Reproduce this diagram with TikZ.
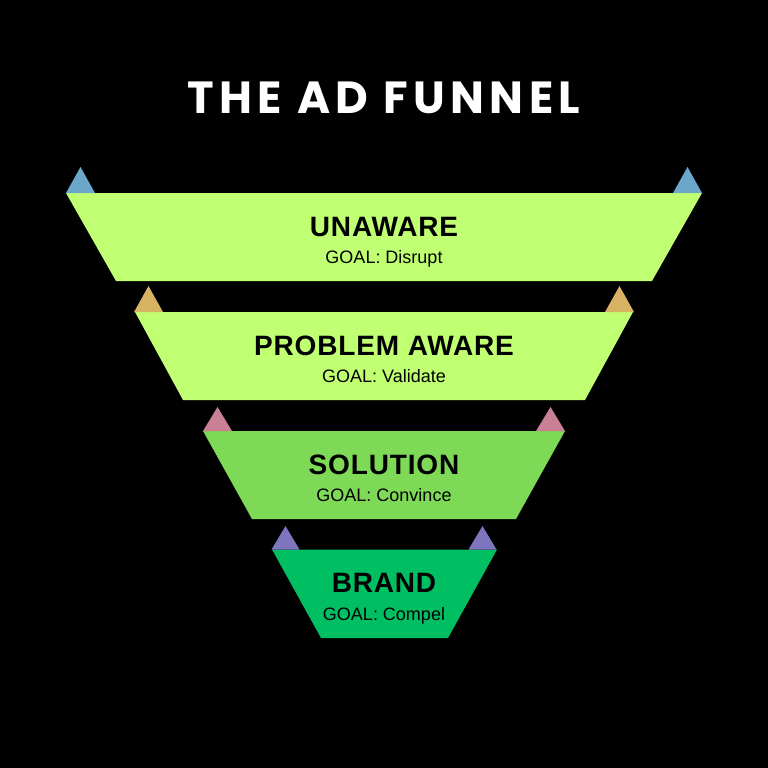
\documentclass[tikz,border=0pt]{standalone}
\usepackage{fontspec}
\setmainfont{Liberation Sans}
\newfontfamily\titlefont[LetterSpace=12]{Poppins}
\newfontfamily\labelfont[LetterSpace=3]{Liberation Sans}
\usetikzlibrary{positioning}
\definecolor{limeLight}{HTML}{C1FF72}
\definecolor{greenMid}{HTML}{7ED957}
\definecolor{greenDeep}{HTML}{00BF63}
\definecolor{triBlue}{HTML}{6CA6C9}
\definecolor{triGold}{HTML}{D6B262}
\definecolor{triPink}{HTML}{C98094}
\definecolor{triPurple}{HTML}{7D76BE}

\begin{document}
\begin{tikzpicture}[
  x=1pt, y=-1pt,
  bandTitle/.style={anchor=base, inner sep=0pt, text=black, font=\labelfont\fontsize{28}{32}\selectfont\bfseries},
  bandGoal/.style={anchor=base, inner sep=0pt, text=black, font=\fontsize{18}{21}\selectfont}
]
  \fill[black] (0,0) rectangle (768,768);

  \node[anchor=base, inner sep=0pt, text=white, font=\titlefont\fontsize{45}{52}\selectfont\bfseries] (title) at (384,113.5) {THE AD FUNNEL};

  % unaware
  \fill[limeLight] (66,193) -- (702,193) -- (652,281) -- (116,281) -- cycle;
  \fill[triBlue] (66,193) -- (80.5,167) -- (95,193) -- cycle;
  \fill[triBlue] (673,193) -- (687.5,167) -- (702,193) -- cycle;
  \node[bandTitle] (unaware) at (384,236) {UNAWARE};
  \node[bandGoal] (unawareGoal) at (384,263) {GOAL: Disrupt};

  % problem aware
  \fill[limeLight] (135,312) -- (633,312) -- (585,400) -- (183,400) -- cycle;
  \fill[triGold] (134,312) -- (148.5,286) -- (163,312) -- cycle;
  \fill[triGold] (605,312) -- (619.5,286) -- (634,312) -- cycle;
  \node[bandTitle] (problem) at (384,355) {PROBLEM AWARE};
  \node[bandGoal] (problemGoal) at (384,382) {GOAL: Validate};

  % solution
  \fill[greenMid] (203,431) -- (565,431) -- (516,519) -- (252,519) -- cycle;
  \fill[triPink] (203,431) -- (217.5,407) -- (232,431) -- cycle;
  \fill[triPink] (536,431) -- (550.5,407) -- (565,431) -- cycle;
  \node[bandTitle] (solution) at (384,474) {SOLUTION};
  \node[bandGoal] (solutionGoal) at (384,501) {GOAL: Convince};

  % brand
  \fill[greenDeep] (272,549.5) -- (497,549.5) -- (448,638) -- (321,638) -- cycle;
  \fill[triPurple] (271.5,549.5) -- (285.5,526) -- (299.5,549.5) -- cycle;
  \fill[triPurple] (468.5,549.5) -- (482.5,526) -- (496.5,549.5) -- cycle;
  \node[bandTitle] (brand) at (384,592.5) {BRAND};
  \node[bandGoal] (brandGoal) at (384,620) {GOAL: Compel};
\end{tikzpicture}
\end{document}
